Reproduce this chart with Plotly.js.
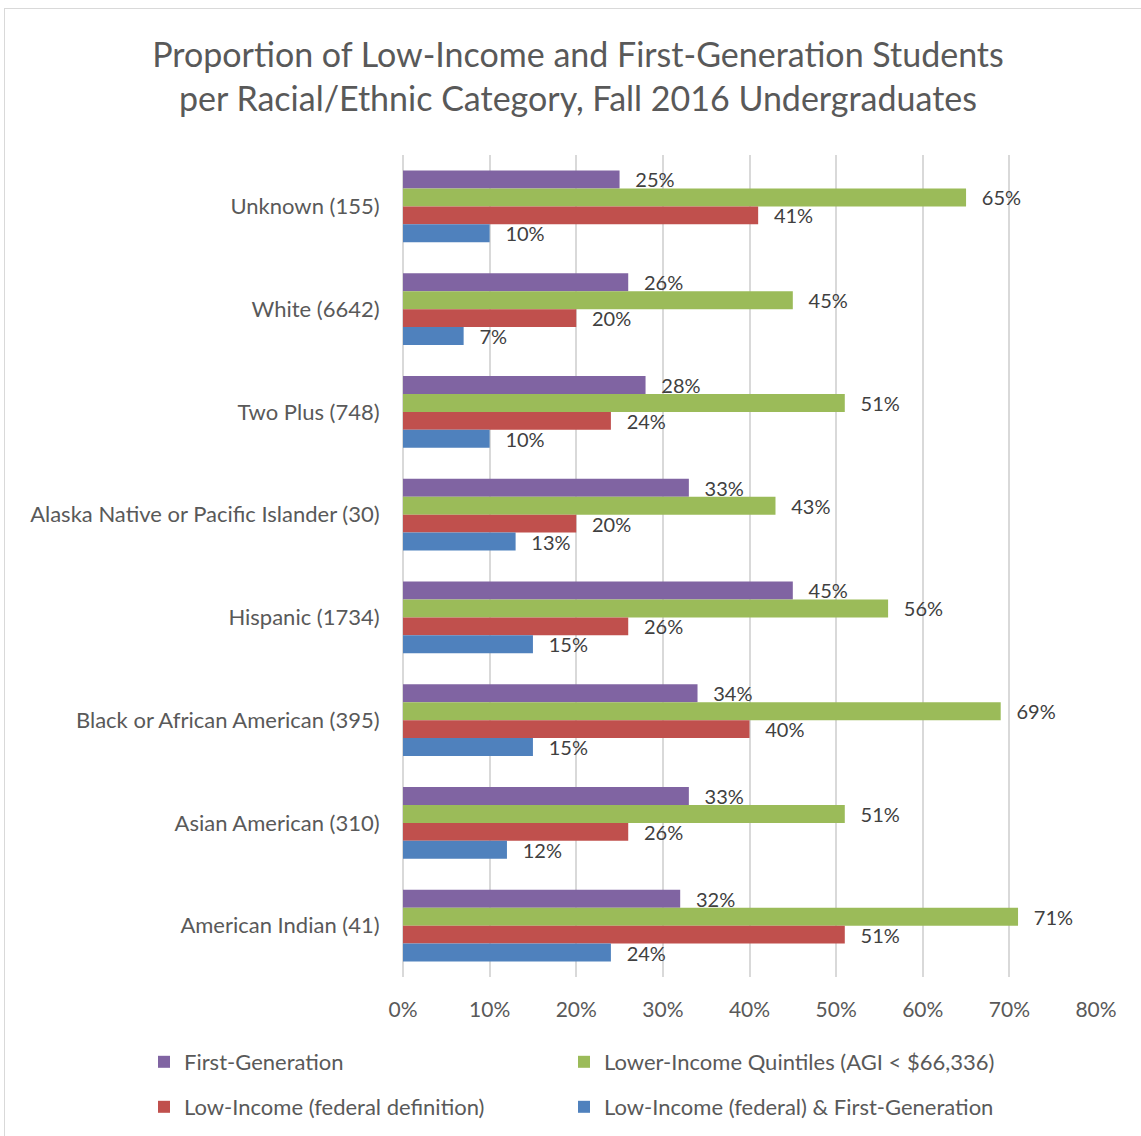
<!DOCTYPE html>
<html>
<head>
<meta charset="utf-8">
<script src="https://cdn.plot.ly/plotly-3.0.1.min.js"></script>
<style>
  html, body { margin: 0; padding: 0; background: #ffffff; }
  #wrap { position: relative; width: 1141px; height: 1136px; overflow: hidden; }
  #frame { position: absolute; left: 4px; top: 8px; width: 1200px; height: 1200px;
           border-left: 1px solid #d9d9d9; border-top: 1px solid #d9d9d9; }
  #chart { position: absolute; left: 0; top: 0; width: 1141px; height: 1136px; }
</style>
</head>
<body>
<div id="wrap">
  <div id="frame"></div>
  <div id="chart"></div>
</div>
<script>
const categories = [
  "Unknown (155)",
  "White (6642)",
  "Two Plus (748)",
  "Alaska Native or Pacific Islander (30)",
  "Hispanic (1734)",
  "Black or African American (395)",
  "Asian American (310)",
  "American Indian (41)"
];
const seriesNames = [
  "First-Generation",
  "Lower-Income Quintiles (AGI < $66,336)",
  "Low-Income (federal definition)",
  "Low-Income (federal) & First-Generation"
];
const firstGen      = [25, 26, 28, 33, 45, 34, 33, 32];
const lowerQuintile = [65, 45, 51, 43, 56, 69, 51, 71];
const lowIncomeFed  = [41, 20, 24, 20, 26, 40, 26, 51];
const lowIncFirstGen= [10,  7, 10, 13, 15, 15, 12, 24];
const xTickVals = [0, 10, 20, 30, 40, 50, 60, 70, 80];

const colors = ["#8064A2", "#9BBB59", "#C0504D", "#4F81BD"];
const values = [firstGen, lowerQuintile, lowIncomeFed, lowIncFirstGen];
const legendIds = ["legend", "legend2", "legend3", "legend4"];
const FONT = "Lato, 'Open Sans', sans-serif";

const traces = values.map((v, i) => ({
  type: "bar",
  orientation: "h",
  name: seriesNames[i],
  y: categories,
  x: v,
  marker: { color: colors[i], line: { width: 0 } },
  text: v.map(n => n + "%"),
  texttemplate: "\u00a0\u00a0\u2009%{text}",
  textposition: "outside",
  constraintext: "none",
  cliponaxis: false,
  textfont: { family: FONT, size: 20, color: "#404040" },
  legend: legendIds[i],
  hoverinfo: "x+y+name"
}));

function legendAt(xText, yCenter) {
  return {
    orientation: "h",
    xref: "container", x: (xText - 40) / 1141, xanchor: "left",
    yref: "container", y: 1 - yCenter / 1136, yanchor: "middle",
    font: { family: FONT, size: 22, color: "#595959" },
    bgcolor: "rgba(0,0,0,0)",
    borderwidth: 0
  };
}

const layout = {
  width: 1141,
  height: 1136,
  paper_bgcolor: "rgba(0,0,0,0)",
  plot_bgcolor: "rgba(0,0,0,0)",
  margin: { l: 403, r: 45, t: 155, b: 159 },
  barmode: "group",
  bargap: 0.3,
  bargroupgap: 0,
  font: { family: FONT, color: "#595959", size: 20 },
  title: {
    text: "Proportion of Low-Income and First-Generation Students<br>per Racial/Ethnic Category, Fall 2016 Undergraduates",
    font: { family: FONT, size: 34, color: "#595959" },
    xref: "container", x: 578 / 1141, xanchor: "center",
    yref: "container", y: 1 - 67 / 1136, yanchor: "middle"
  },
  xaxis: {
    range: [0, 80],
    tickvals: xTickVals,
    ticktext: xTickVals.map(t => t + "%"),
    showgrid: true,
    gridcolor: "#d9d9d9",
    gridwidth: 2,
    zeroline: true,
    zerolinecolor: "#d9d9d9",
    zerolinewidth: 2,
    showline: false,
    ticks: "outside",
    ticklen: 14,
    tickcolor: "rgba(0,0,0,0)",
    tickfont: { family: FONT, size: 21, color: "#595959" },
    fixedrange: true
  },
  yaxis: {
    type: "category",
    autorange: "reversed",
    showgrid: false,
    zeroline: false,
    showline: false,
    ticks: "outside",
    ticklen: 18,
    tickcolor: "rgba(0,0,0,0)",
    tickfont: { family: FONT, size: 22, color: "#595959" },
    fixedrange: true
  },
  legend: legendAt(184, 1062),
  legend2: legendAt(604, 1062),
  legend3: legendAt(184, 1107),
  legend4: legendAt(604, 1107),
  showlegend: true
};

Plotly.newPlot("chart", traces, layout, { displayModeBar: false, staticPlot: true });
</script>
</body>
</html>
